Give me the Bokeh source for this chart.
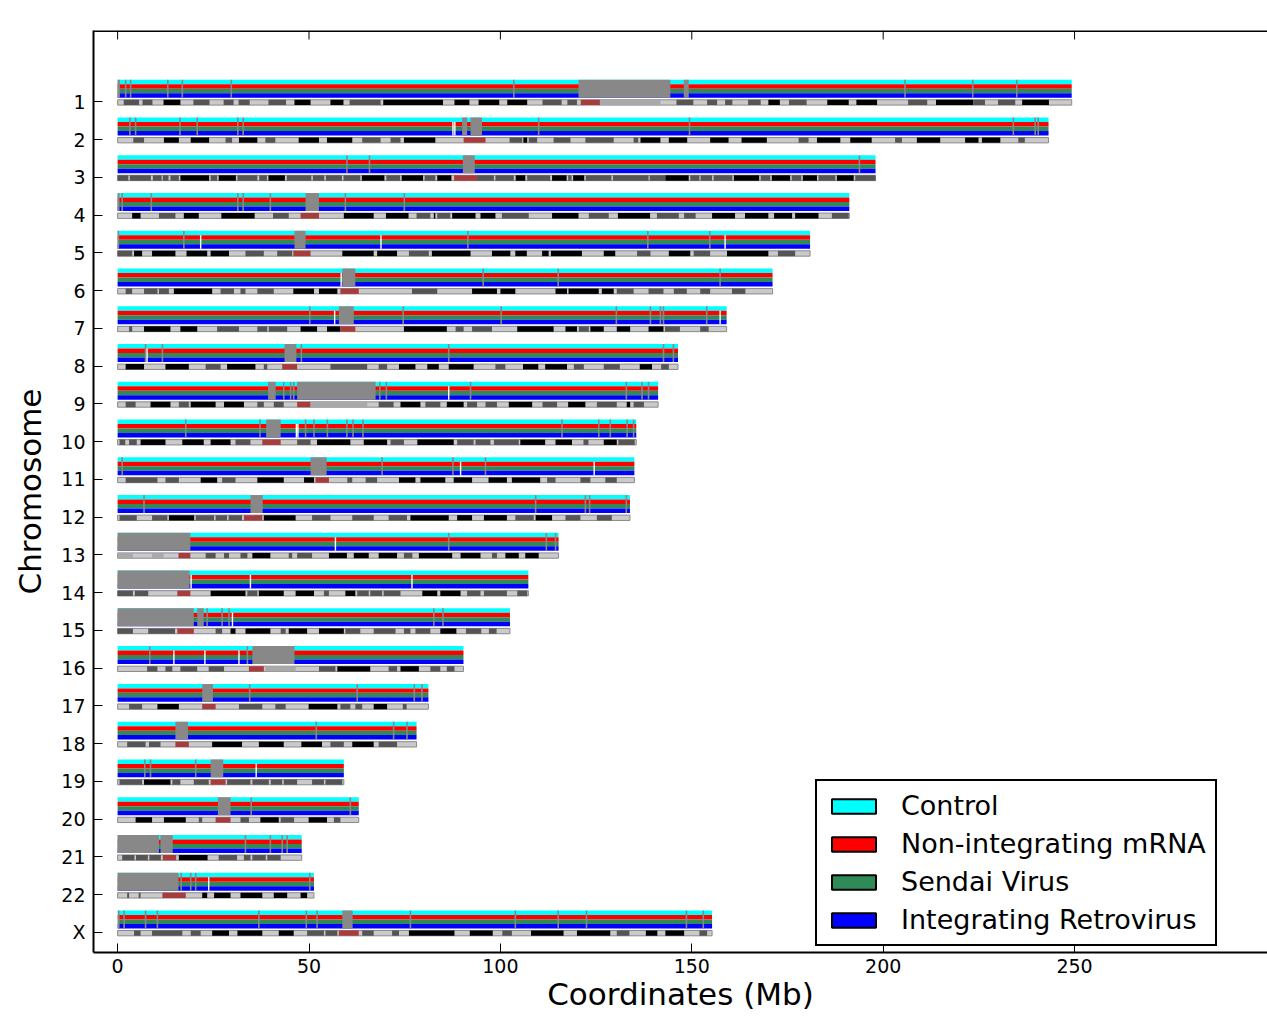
from bokeh.plotting import figure
from bokeh.models import Range1d, FixedTicker, Legend, LegendItem, Span
from bokeh.embed import file_html
from bokeh.resources import INLINE

# ---------------- data ----------------
chrom_names = ["1", "2", "3", "4", "5", "6", "7", "8", "9", "10", "11", "12",
               "13", "14", "15", "16", "17", "18", "19", "20", "21", "22", "X"]
chrom_lengths = [249.25, 243.2, 198.0, 191.15, 180.9, 171.1, 159.1, 146.4, 141.2,
                 135.5, 135.0, 133.85, 115.2, 107.3, 102.5, 90.35, 81.2, 78.1,
                 59.1, 63.0, 48.1, 51.3, 155.3]
x_ticks = [0, 50, 100, 150, 200, 250]

series_names = ["Control", "Non-integrating mRNA", "Sendai Virus", "Integrating Retrovirus"]
series_colors = ["#00ffff", "#ff0000", "#2e8b57", "#0000ff"]

# gray blocks (Mb) per chromosome
gap_blocks = [
    [(0, 0.6), (120.4, 144.4), (147.9, 149.2)],
    [(90, 91.3), (92.2, 95.2)],
    [(90.2, 93.3)],
    [(0, 0.5), (49.1, 52.6)],
    [(0, 0.4), (46.2, 49.1)],
    [(58.7, 62.1)],
    [(57.8, 61.7)],
    [(43.6, 46.7)],
    [(39.3, 41.3), (46.9, 67.4)],
    [(38.8, 42.6)],
    [(50.4, 54.6)],
    [(34.7, 37.9)],
    [(0, 19.0)],
    [(0, 18.8)],
    [(0, 19.9), (20.8, 22.5)],
    [(35.2, 46.2)],
    [(22.1, 24.9)],
    [(15.1, 18.4)],
    [(24.3, 27.6)],
    [(26.2, 29.5)],
    [(0, 10.8), (11.2, 14.4)],
    [(0, 15.9)],
    [(58.7, 61.4)],
]

# thin gray gap lines (Mb)
gap_lines = [
    [2.1, 3.4, 13.1, 16.9, 29.7, 103.5, 205.7, 223.4, 234.9],
    [3.2, 4.7, 16.3, 20.8, 31.4, 32.8, 110, 149.4, 234, 239.7, 240.5],
    [59.9, 65.8, 193.8],
    [1.2, 8.8, 31.4, 32.8, 39.9, 59.5, 74.9],
    [17.3, 91.5, 138.5, 154.7],
    [95.5, 115.1, 157.4],
    [50.2, 74.6, 100.2, 130.3, 139.2, 141.8, 142.6, 153.9],
    [7.3, 11.7, 48, 86.5, 142.6, 145.2],
    [43.4, 45.2, 46.0, 68.5, 70.2, 92.2, 132.9, 137, 138.7],
    [17.8, 37.2, 49.1, 51.3, 54.8, 59.9, 61.5, 64.1, 116.1, 125.7, 128.7, 133.1, 134.8],
    [1.2, 69.1, 87.6, 96.1],
    [6.9, 109.2, 122.2, 123.3, 132.9],
    [86.5, 112.0, 114.4],
    [],
    [23.4, 27.3, 29.1, 82.6, 85.0],
    [8.4, 33.9],
    [34.5, 62.6, 77.5, 79.5],
    [51.9, 72.1, 75.6],
    [7.1, 8.6, 20.4],
    [34.9, 60.8],
    [33.4, 39.9, 43.0, 44.3],
    [16.6, 19.1, 20.4, 50.2],
    [0.3, 1.7, 7.3, 10.4, 36.9, 49.3, 52.1, 76.5, 103.9, 115.1, 122.5, 148.6, 153.0],
]

# white breaks (Mb)
white_lines = [
    [], [87.6, 88.1], [], [], [21.7, 68.8, 158.7], [58.4], [56.7, 157.4], [7.7],
    [86.5], [46.7, 47.1], [89.6, 124.5], [], [56.9], [19.2, 34.7, 76.9], [30.0],
    [14.7, 22.8, 31.7], [], [], [36.2], [], [], [23.8], [],
]

# cytobands: (start, end, stain)  k=dark, d=medium, r=centromere, l=variable
band_stains = {"k": "#000000", "d": "#555555", "r": "#a83c3c", "l": "#a9a9a9"}
cyto_bands = [
    [(1.6, 5.6, "d"), (6.5, 9.1, "d"), (12, 16.4, "k"), (19.8, 24, "d"), (27.7, 30.3, "d"),
     (31.6, 34.5, "d"), (39.4, 44, "d"), (46.2, 50.4, "k"), (55.6, 59, "k"), (60.6, 68.7, "d"),
     (69.4, 85, "k"), (88, 91.9, "k"), (94.3, 99.7, "k"), (101.8, 107, "k"), (111, 116, "d"),
     (117.5, 120, "d"), (121, 126, "r"), (126, 141.8, "l"), (146, 150.4, "d"), (154, 156.6, "d"),
     (158.7, 160.6, "d"), (164.7, 168, "d"), (170, 173, "k"), (175.4, 180, "d"), (185.4, 191, "k"),
     (193, 198.4, "k"), (206.5, 211.5, "d"), (213.8, 223.5, "k"), (223.5, 226.6, "d"),
     (230, 234.5, "d"), (236.3, 243.3, "k")],
    [(4.1, 6.9, "d"), (12.1, 16, "k"), (19.1, 23.9, "k"), (28.2, 29.9, "d"), (31.7, 36.5, "k"),
     (38.6, 41.2, "d"), (47.3, 52.6, "k"), (54.7, 61.3, "k"), (63.9, 68.7, "d"), (71.3, 73.9, "d"),
     (74.8, 83, "k"), (90.4, 96.1, "r"), (102.4, 105.7, "d"), (106, 107, "k"), (107.4, 109.6, "d"),
     (113.9, 118.3, "d"), (122.2, 129.6, "d"), (134.8, 136, "d"), (136.6, 141.8, "k"),
     (144, 148.8, "k"), (154.8, 159.6, "k"), (163, 169.6, "k"), (177.9, 180.5, "d"),
     (182.7, 188.8, "k"), (191.4, 197, "k"), (203.1, 204.9, "d"), (208.8, 214.9, "k"),
     (221.4, 224.9, "k"), (225.8, 230.6, "k"), (235.3, 237, "d")],
    [(0, 2.8, "d"), (3.2, 8.7, "d"), (9.2, 11.5, "d"), (11.8, 13.3, "d"), (13.8, 16, "d"),
     (16.4, 23.9, "k"), (24.3, 26, "d"), (26.4, 30.9, "k"), (31.3, 36.5, "d"), (37, 39, "d"),
     (39.4, 43.7, "k"), (44.2, 50.6, "d"), (51, 54, "d"), (54.4, 58.6, "d"), (59, 63.4, "d"),
     (63.8, 69.7, "k"), (70.2, 73.8, "d"), (74.2, 79.8, "k"), (80.2, 83, "d"), (83.5, 87.2, "k"),
     (87.9, 93.9, "r"), (93.9, 98.3, "d"), (98.7, 103.5, "d"), (104, 106.5, "k"), (107, 113, "d"),
     (113.5, 117.3, "k"), (117.7, 118.6, "d"), (119, 121.9, "k"), (122.3, 129, "d"),
     (129.4, 138.7, "d"), (139, 143.1, "d"), (143.1, 149.2, "k"), (149.6, 152, "d"),
     (152.3, 155.3, "d"), (155.7, 160.6, "d"), (161, 167.6, "k"), (168, 170.5, "d"),
     (170.9, 175.7, "k"), (176.1, 178.6, "d"), (179, 182.7, "k"), (183.1, 187.5, "d"),
     (187.9, 192.3, "k"), (192.7, 198, "d")],
    [(3.8, 6, "k"), (10.8, 15.1, "d"), (17.3, 21.2, "k"), (27.1, 35.8, "k"), (40.6, 44.7, "d"),
     (47.8, 52.6, "r"), (59.1, 66.9, "k"), (70.1, 76, "k"), (78.1, 81.7, "d"), (82.6, 83, "k"),
     (83.5, 86.9, "d"), (87.4, 93.5, "k"), (94.8, 98.7, "k"), (100.4, 107.4, "d"),
     (113.5, 120.4, "k"), (123.1, 128.3, "d"), (130.7, 139.1, "k"), (140.9, 146.6, "d"),
     (148, 151, "d"), (155.3, 161.3, "k"), (163.9, 170, "k"), (171.5, 176.2, "k"),
     (177, 183.1, "k"), (186.6, 191, "d")],
    [(0, 3.8, "d"), (4.3, 6.4, "k"), (9, 15.1, "k"), (18, 23.4, "k"), (24.3, 29.1, "k"),
     (33.4, 38.2, "d"), (41.7, 45.6, "d"), (45.9, 50.4, "r"), (58.7, 66.9, "k"), (67.8, 73, "k"),
     (76.1, 81.3, "d"), (82.1, 92.2, "k"), (97.8, 102.6, "k"), (103.9, 106.9, "k"),
     (110.9, 112.6, "k"), (113.2, 121.3, "k"), (127, 130, "k"), (135.7, 139.2, "d"),
     (144, 149.6, "k"), (150.5, 154.8, "d"), (159.2, 170, "k"), (172.5, 177, "d")],
    [(2.1, 3.8, "d"), (6.9, 10.4, "d"), (10.8, 13.4, "d"), (14.7, 24.7, "k"), (26.9, 30.4, "d"),
     (32.1, 33.4, "d"), (36.5, 40.8, "d"), (45.9, 51.3, "k"), (52.6, 57.4, "k"), (58.2, 63, "r"),
     (76.9, 83.5, "d"), (92.6, 99.1, "k"), (100, 103.9, "k"), (114.4, 117.4, "k"),
     (117.8, 125.7, "k"), (126.5, 129.6, "k"), (130.4, 134.8, "d"), (138.7, 142.6, "d"),
     (145.3, 148.7, "d"), (152.2, 154.8, "d"), (160.5, 164, "d")],
    [(3, 3.8, "d"), (6.9, 13.8, "k"), (16.4, 20.8, "k"), (26, 31.7, "d"), (36.5, 39.1, "d"),
     (39.5, 44.3, "d"), (47.8, 52.1, "k"), (54.7, 58.2, "k"), (58.2, 62.1, "r"), (74.8, 86, "k"),
     (88.3, 90.4, "d"), (92.6, 97.8, "d"), (104.4, 113.9, "k"), (117, 120, "k"),
     (120.5, 123.1, "d"), (123.5, 127, "k"), (130.4, 133.9, "k"), (138.7, 142.6, "k"),
     (143, 146.9, "d"), (152.2, 154.4, "d")],
    [(2.1, 6.9, "k"), (12.5, 18.6, "k"), (23, 26.9, "d"), (28.6, 36, "k"), (38.2, 39.1, "d"),
     (43, 46.9, "r"), (55.6, 65.2, "d"), (68.2, 70.4, "d"), (73.5, 77.8, "k"), (80.9, 83.9, "k"),
     (86.5, 93, "k"), (98.7, 101.3, "d"), (105.9, 109.9, "k"), (111.7, 117.4, "k"),
     (119.2, 121.8, "d"), (127, 131.2, "d"), (136.4, 139.6, "k"), (142, 144, "d")],
    [(2.1, 4.7, "d"), (8.6, 13.8, "k"), (16, 18.6, "d"), (19.1, 25.6, "k"), (27.8, 33, "k"),
     (36.5, 38.2, "d"), (40.8, 43.4, "d"), (46.9, 50.4, "r"), (50.4, 65.2, "l"), (68.2, 72.1, "d"),
     (73.9, 79.1, "k"), (80.4, 84.3, "d"), (86, 90.4, "k"), (91.3, 93.9, "d"), (96.1, 99.1, "d"),
     (102.2, 108.3, "k"), (111, 114.8, "d"), (117.7, 122.2, "k"), (125.2, 130.4, "d"),
     (133, 133.9, "k"), (134.8, 137.5, "d")],
    [(0.5, 2, "d"), (3, 5, "d"), (6, 12.5, "k"), (16.9, 22.5, "k"), (24.3, 29.5, "k"),
     (30.8, 34.7, "d"), (37.8, 42.6, "r"), (46.9, 50.4, "d"), (52.1, 60.8, "k"), (64.3, 70.4, "k"),
     (71.3, 74.8, "d"), (78.3, 87.8, "k"), (88.7, 93, "d"), (93.5, 97.4, "d"), (98.3, 104.8, "d"),
     (105.2, 111.7, "k"), (114.4, 118.7, "k"), (121.7, 123, "d"), (127, 130.4, "k"),
     (130.8, 135.1, "d")],
    [(2.1, 10.4, "d"), (12.5, 16, "d"), (21.7, 26, "k"), (27.3, 30.8, "d"), (36.5, 43.4, "k"),
     (48.7, 51.3, "k"), (51.7, 55.2, "r"), (60, 61.3, "d"), (64.8, 67.8, "d"), (73.5, 77.8, "k"),
     (79.1, 85.6, "k"), (87.8, 92.6, "k"), (96.9, 101.7, "k"), (103, 110.4, "k"),
     (112.2, 114.4, "d"), (120.9, 123.5, "d"), (127.4, 130.4, "d")],
    [(0.5, 5, "d"), (9, 13, "d"), (13.4, 20, "k"), (20.4, 25.2, "d"), (25.6, 28.6, "d"),
     (29, 32.5, "d"), (33, 37.8, "r"), (38.2, 46.5, "k"), (50.8, 55.6, "d"), (61.3, 66.9, "d"),
     (70.8, 75.6, "d"), (76.5, 86.5, "k"), (88.7, 92.6, "k"), (95.7, 101.7, "k"),
     (103.9, 108.7, "d"), (109.2, 113.5, "k"), (117, 120.9, "d"), (125.2, 129.1, "d")],
    [(0, 4, "l"), (9, 12, "l"), (15.9, 19, "r"), (23, 25.6, "d"), (27.8, 29.1, "d"),
     (32.1, 33.9, "d"), (35.2, 39.9, "k"), (44.7, 45.6, "d"), (46.9, 50.8, "d"), (55.2, 59.9, "k"),
     (61.7, 65.6, "k"), (68.2, 73, "k"), (74.8, 77, "d"), (78.7, 87.4, "k"), (89.6, 94.8, "k"),
     (97.8, 99.1, "d"), (101.3, 104.8, "k"), (106.5, 110, "k")],
    [(0, 4, "d"), (4.5, 8, "d"), (15.6, 19, "r"), (24.3, 33.4, "k"), (33.9, 36.5, "d"),
     (36.9, 43.4, "k"), (46.5, 51.3, "k"), (53.9, 55.2, "d"), (59.5, 62.1, "k"), (62.6, 65.6, "d"),
     (66, 69.1, "d"), (69.5, 73.9, "d"), (79.6, 83.5, "k"), (84.3, 89.6, "k"), (91.3, 94.8, "d"),
     (95.7, 101.7, "d"), (104.4, 107, "d")],
    [(0, 4, "d"), (8, 15, "d"), (15.6, 19.9, "r"), (25.6, 27.3, "d"), (29.5, 30.8, "k"),
     (33.4, 39.9, "k"), (42.6, 43.9, "d"), (44.7, 49.5, "k"), (52.6, 59.1, "k"), (59.5, 63.4, "d"),
     (66.9, 72.6, "d"), (74.8, 76.5, "d"), (77.8, 81.7, "d"), (84.3, 88.5, "k"), (91, 95, "d"),
     (97, 99, "d")],
    [(7.7, 10.4, "d"), (12.5, 14.3, "d"), (16.4, 20.8, "d"), (23.8, 27.8, "d"), (34.3, 38.2, "r"),
     (38.6, 46.5, "l"), (52.6, 56.9, "d"), (57.4, 66, "k"), (70.8, 73, "d"), (73.9, 78.7, "k"),
     (81.7, 84.3, "d"), (86, 88, "d")],
    [(3, 6.4, "d"), (10.4, 16, "k"), (22.1, 25.6, "r"), (31.7, 37.8, "d"), (41.2, 43.9, "d"),
     (49.9, 57.4, "k"), (58.2, 60.8, "d"), (62.1, 63.9, "d"), (66.9, 70.4, "k"), (74.5, 75.5, "d")],
    [(2.5, 7.3, "d"), (8.2, 11.2, "d"), (15.1, 18.6, "r"), (24.7, 32.5, "k"), (36.9, 43.4, "k"),
     (48, 53.4, "k"), (55.6, 59.1, "d"), (61.3, 66.9, "k"), (68.2, 73, "d")],
    [(0.5, 6.4, "d"), (6.9, 13.8, "k"), (14.3, 16.4, "d"), (19.9, 23.8, "d"), (24.3, 28.2, "r"),
     (28.6, 34.7, "d"), (35.2, 39.5, "d"), (40, 43, "d"), (43.4, 46.9, "d"), (50.8, 53.9, "d"),
     (54.3, 58.7, "d")],
    [(4.7, 9, "k"), (12.1, 17.8, "k"), (21.2, 22.1, "d"), (25.6, 29.5, "r"), (32.1, 34.3, "d"),
     (37.3, 42.1, "k"), (42.6, 46.1, "d"), (49.9, 54.7, "k"), (56.5, 58.2, "d")],
    [(1.2, 4.4, "d"), (4.8, 7.9, "d"), (8.3, 11.3, "d"), (11.8, 15.3, "r"), (16, 23.5, "k"),
     (26.4, 31.2, "d"), (33, 34.7, "d"), (35.2, 38.7, "d"), (39.1, 42.6, "d")],
    [(2.5, 3, "d"), (5.5, 6, "d"), (11.7, 17.8, "r"), (22.1, 23.4, "k"), (25.2, 29.5, "k"),
     (32.1, 37.8, "k"), (40.8, 44.3, "k"), (47.8, 49.5, "k")],
    [(4.3, 6, "d"), (9, 16.9, "d"), (19.1, 21.7, "d"), (24.7, 29.1, "k"), (31.3, 37.8, "k"),
     (42.1, 46, "k"), (49.5, 53.9, "d"), (54.3, 57.4, "d"), (57.8, 63, "r"), (63.9, 66.9, "d"),
     (71.7, 73.5, "d"), (76.1, 88, "k"), (92, 98, "k"), (100.5, 103, "d"), (108, 116.5, "k"),
     (120, 128.7, "k"), (130.4, 133.7, "d"), (138, 141, "k"), (143.1, 148, "k"), (152, 154, "d")],
]

# ---------------- geometry (row units) ----------------
STRIPE_TOP = -0.584
STRIPE_H = 0.119
STRIPE_BOT = STRIPE_TOP + 4 * STRIPE_H
BAND_TOP = -0.053
BAND_BOT = 0.088
Y_BOTTOM, Y_TOP = 22.53, -1.888
X_LEFT, X_RIGHT = -6.3, 300.4
TICK_LEN = 9 / 37.76

FONT = "DejaVu Sans"

p = figure(width=1267, height=1017,
           x_range=Range1d(X_LEFT, X_RIGHT), y_range=Range1d(Y_BOTTOM, Y_TOP),
           output_backend="svg", toolbar_location=None,
           min_border_left=93, min_border_right=0, min_border_top=30, min_border_bottom=65)
p.outline_line_color = None
p.grid.visible = False
p.background_fill_color = "white"

# stripes
L, R, T, B, C = [], [], [], [], []
for i, length in enumerate(chrom_lengths):
    for k, col in enumerate(series_colors):
        L.append(0); R.append(length)
        T.append(i + STRIPE_TOP + k * STRIPE_H)
        B.append(i + STRIPE_TOP + (k + 1) * STRIPE_H)
        C.append(col)
p.quad(left=L, right=R, top=T, bottom=B, fill_color=C, line_color=None)

# gray blocks
gl, gr, gt, gb = [], [], [], []
for i, blocks in enumerate(gap_blocks):
    for s, e in blocks:
        gl.append(s); gr.append(e); gt.append(i + STRIPE_TOP); gb.append(i + STRIPE_BOT)
p.quad(left=gl, right=gr, top=gt, bottom=gb, fill_color="#888888", line_color=None)

# thin gray lines
sx, sy0, sy1 = [], [], []
for i, xs in enumerate(gap_lines):
    for x in xs:
        sx.append(x); sy0.append(i + STRIPE_TOP); sy1.append(i + STRIPE_BOT)
p.segment(x0=sx, y0=sy0, x1=sx, y1=sy1, line_color="#888888", line_width=1.6)

wx, wy0, wy1 = [], [], []
for i, xs in enumerate(white_lines):
    for x in xs:
        wx.append(x); wy0.append(i + STRIPE_TOP + STRIPE_H); wy1.append(i + STRIPE_BOT)
p.segment(x0=wx, y0=wy0, x1=wx, y1=wy1, line_color="white", line_width=1.4)

# cytoband rows
p.quad(left=[0] * len(chrom_lengths), right=chrom_lengths,
       top=[i + BAND_TOP for i in range(len(chrom_lengths))],
       bottom=[i + BAND_BOT for i in range(len(chrom_lengths))],
       fill_color="#cacaca", line_color="#8a8a8a", line_width=1)
bl, br, bt, bb, bc = [], [], [], [], []
for i, bands in enumerate(cyto_bands):
    for s, e, st in bands:
        bl.append(s); br.append(min(e, chrom_lengths[i])); bt.append(i + BAND_TOP); bb.append(i + BAND_BOT)
        bc.append(band_stains[st])
p.quad(left=bl, right=br, top=bt, bottom=bb, fill_color=bc, line_color=None)

# axes
p.xaxis.ticker = FixedTicker(ticks=x_ticks)
p.yaxis.ticker = FixedTicker(ticks=list(range(len(chrom_names))))
p.yaxis.major_label_overrides = {i: n for i, n in enumerate(chrom_names)}
for ax in (p.xaxis[0], p.yaxis[0]):
    ax.major_label_text_font = FONT
    ax.major_label_text_font_size = "19px"
    ax.major_label_text_color = "black"
    ax.major_tick_in = 9
    ax.major_tick_out = 0
    ax.minor_tick_line_color = None
    ax.axis_line_width = 2
    ax.axis_line_color = "black"
    ax.major_tick_line_color = "black"
    ax.axis_label_text_font = FONT
    ax.axis_label_text_font_size = "31px"
    ax.axis_label_text_font_style = "normal"
    ax.axis_label_text_color = "black"
p.xaxis.major_label_standoff = 6
p.yaxis.major_label_standoff = 8

p.yaxis.axis_label = "Chromosome"
p.yaxis.axis_label_standoff = 10
p.xaxis.axis_label = "Coordinates (Mb)"
p.xaxis.axis_label_standoff = 0

# top frame line with inward ticks
p.add_layout(Span(location=Y_TOP, dimension="width", line_color="black", line_width=3))
p.segment(x0=x_ticks, x1=x_ticks, y0=[Y_TOP] * len(x_ticks),
          y1=[Y_TOP + TICK_LEN] * len(x_ticks), line_color="black", line_width=1)

# legend
nan = float("nan")
items = []
for name, col in zip(series_names, series_colors):
    r = p.quad(left=[nan], right=[nan], top=[nan], bottom=[nan],
               fill_color=col, line_color="black", line_width=2)
    items.append(LegendItem(label=name, renderers=[r]))
legend = Legend(items=items, location=(722, 6), glyph_width=55, glyph_height=18,
                label_standoff=20, padding=9, spacing=7, margin=0,
                label_text_font=FONT, label_text_font_size="27px", label_text_color="black",
                border_line_color="black", border_line_width=2, border_line_alpha=1,
                background_fill_alpha=1)
p.add_layout(legend)

open("out.html", "w").write(file_html(p, INLINE))
